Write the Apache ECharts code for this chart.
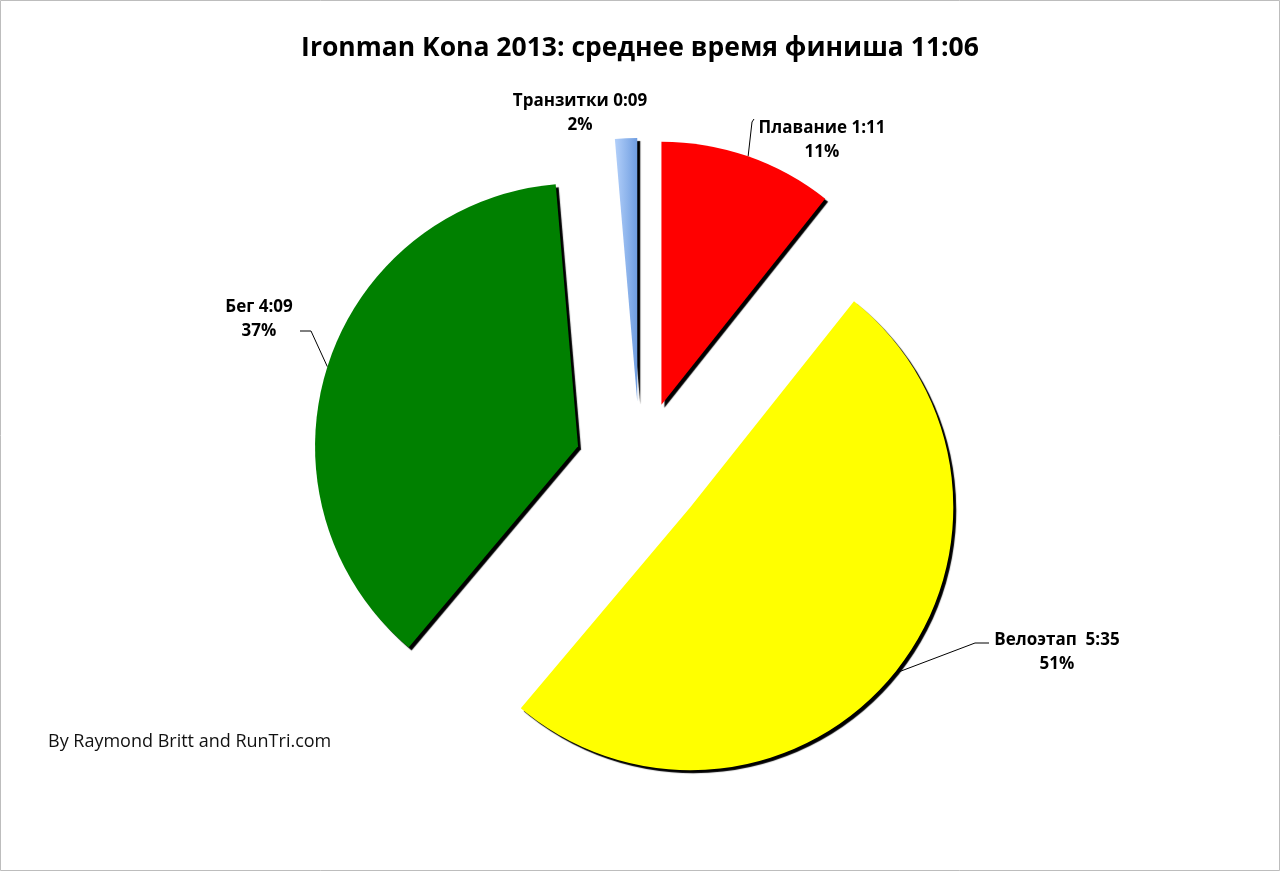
<!DOCTYPE html>
<html>
<head>
<meta charset="utf-8">
<script src="https://cdn.jsdelivr.net/npm/echarts@6/dist/echarts.min.js"></script>
<style>
  html, body { margin: 0; padding: 0; background: #fff; }
  #chart { width: 1280px; height: 871px; }
</style>
</head>
<body>
<div id="chart"></div>
<script>
// Data
var categories = ['Плавание', 'Велоэтап', 'Бег', 'Транзитки'];
var times = ['1:11', '5:35', '4:09', '0:09'];
var minutes = [71, 335, 249, 9];
var percents = [11, 51, 37, 2];
var nameSeparators = [' ', '  ', ' ', ' '];

var titleText = 'Ironman Kona 2013: среднее время финиша 11:06';
var creditText = 'By Raymond Britt and RunTri.com';

// Layout settings (px)
var pieCenter = [640, 466];
var pieRadius = 263;
var explode = 65;
var labelAnchors = [[822, 140], [1057, 652], [259, 319], [580, 113]];
// leader line bend / end points (null = no leader line)
var leaderPaths = [
  [[752, 122], [754, 119]],
  [[975, 643], [989, 643]],
  [[311, 331], [300, 331]],
  null
];

var colors = [
  '#ff0000',
  '#ffff00',
  '#008000',
  new echarts.graphic.LinearGradient(0, 0, 1, 0, [
    { offset: 0, color: '#b3d0fa' },
    { offset: 1, color: '#6f9de0' }
  ])
];

var total = minutes.reduce(function (a, b) { return a + b; }, 0);

function midAngle(i) {
  var cum = 0;
  for (var k = 0; k < i; k++) cum += minutes[k];
  return (cum + minutes[i] / 2) / total * 2 * Math.PI; // clockwise from 12 o'clock
}

function makeSeries(idx) {
  var a = midAngle(idx);
  var center = [pieCenter[0] + explode * Math.sin(a), pieCenter[1] - explode * Math.cos(a)];
  var data = categories.map(function (c, i) {
    if (i === idx) {
      return {
        name: c,
        value: minutes[i],
        itemStyle: {
          color: colors[i],
          shadowColor: '#000',
          shadowOffsetX: 3,
          shadowOffsetY: 3,
          shadowBlur: 1
        },
        labelLine: { show: leaderPaths[i] !== null }
      };
    }
    return {
      name: c,
      value: minutes[i],
      itemStyle: { color: 'rgba(0,0,0,0)' },
      label: { show: false },
      labelLine: { show: false }
    };
  });
  return {
    type: 'pie',
    center: center,
    radius: [0, pieRadius],
    startAngle: 90,
    clockwise: true,
    silent: true,
    avoidLabelOverlap: false,
    emphasis: { disabled: true },
    label: {
      show: true,
      position: 'outside',
      formatter: function (p) {
        var i = p.dataIndex;
        return '{t|' + categories[i] + nameSeparators[i] + times[i] + '}\n{t|' + percents[i] + '%}';
      },
      rich: {
        t: {
          width: 180,
          align: 'center',
          fontFamily: 'Open Sans',
          fontWeight: 'bold',
          fontSize: 17,
          lineHeight: 24,
          color: '#000'
        }
      }
    },
    labelLine: {
      show: true,
      length: 20,
      length2: 10,
      lineStyle: { color: '#000', width: 1 }
    },
    labelLayout: function (params) {
      var i = params.dataIndex;
      var anc = labelAnchors[i];
      var out = { x: anc[0], y: anc[1], align: 'center', verticalAlign: 'middle' };
      var path = leaderPaths[i];
      if (path && params.labelLinePoints && params.labelLinePoints[0]) {
        out.labelLinePoints = [params.labelLinePoints[0], path[0], path[1]];
      }
      return out;
    },
    data: data
  };
}

var chart = echarts.init(document.getElementById('chart'));

chart.setOption({
  animation: false,
  backgroundColor: '#ffffff',
  title: {
    text: titleText,
    left: 'center',
    top: 30,
    textStyle: {
      fontFamily: 'Open Sans',
      fontWeight: 'bold',
      fontSize: 26.5,
      color: '#000'
    }
  },
  graphic: [
    {
      type: 'rect',
      shape: { x: 0.5, y: 0.5, width: 1279, height: 870 },
      style: { fill: 'none', stroke: '#bdbdbd', lineWidth: 1 },
      silent: true
    },
    {
      type: 'text',
      left: 48,
      top: 733,
      style: {
        text: creditText,
        fontFamily: 'Open Sans',
        fontSize: 18,
        fill: '#111'
      },
      silent: true
    }
  ],
  series: categories.map(function (c, i) { return makeSeries(i); })
});
</script>
</body>
</html>
